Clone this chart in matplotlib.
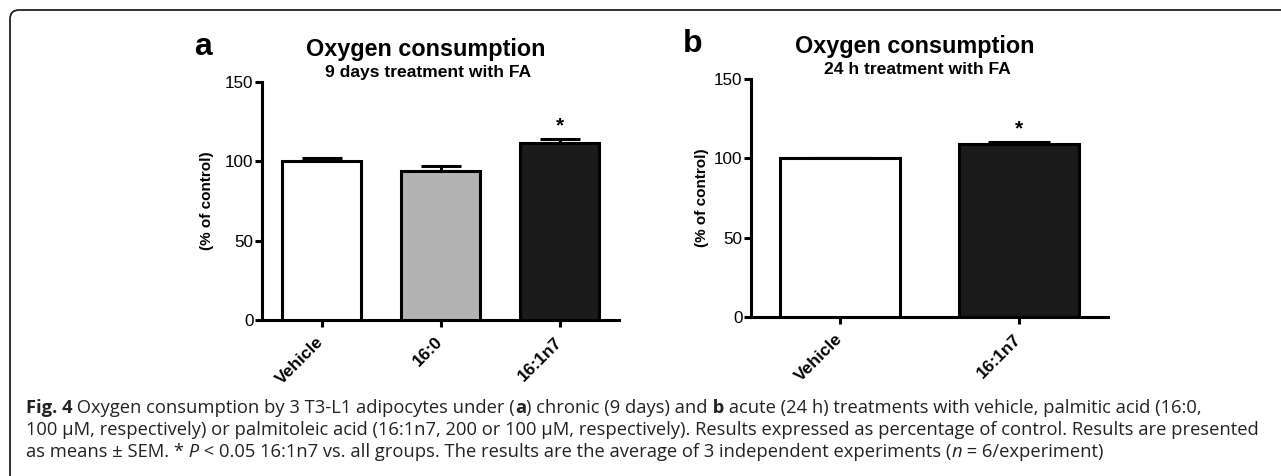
import matplotlib
matplotlib.use("Agg")
import matplotlib.pyplot as plt
from matplotlib.patches import FancyBboxPatch
from matplotlib.transforms import IdentityTransform

# ======================
# DATA
# ======================
labels_a = ["Vehicle", "16:0", "16:1n7"]
means_a = [100, 94, 111.8]
sem_a = [2.3, 3.2, 2.5]
colors_a = ["white", "#b3b3b3", "#1a1a1a"]
signif_a = [False, False, True]

labels_b = ["Vehicle", "16:1n7"]
means_b = [100, 109]
sem_b = [0, 1.1]
colors_b = ["white", "#1a1a1a"]
signif_b = [False, True]

title = "Oxygen consumption"
subtitle_a = "9 days treatment with FA"
subtitle_b = "24 h treatment with FA"
ylabel = "(% of control)"

caption_lines = [
    [("Fig. 4", "bold"),
     (" Oxygen consumption by 3 T3-L1 adipocytes under (", "normal"),
     ("a", "bold"),
     (") chronic (9 days) and", "normal"),
     (" b", "bold"),
     (" acute (24 h) treatments with vehicle, palmitic acid (16:0,", "normal")],
    [("100 µM, respectively) or palmitoleic acid (16:1n7, 200 or 100 µM, respectively). "
      "Results expressed as percentage of control. Results are presented", "normal")],
    [("as means ± SEM. *", "normal"),
     (" P", "italic"),
     (" < 0.05 16:1n7 vs. all groups. The results are the average of 3 independent experiments (", "normal"),
     ("n", "italic"),
     (" = 6/experiment)", "normal")],
]

# ======================
# STYLE
# ======================
W, H = 1281, 476
LW = 2.2
CHART_FONT = "Liberation Sans"
CAPTION_FONT = "Open Sans"

plt.rcParams["font.family"] = CHART_FONT


def draw_panel(ax, labels, means, sems, colors, signif, subtitle, letter,
               capsize, ylabel_x):
    x = list(range(len(labels)))
    ax.bar(x, means, width=0.67, color=colors, edgecolor="black",
           linewidth=LW, zorder=3)
    lower = [0] * len(sems)
    ax.errorbar(x, means, yerr=[lower, sems], fmt="none", ecolor="black",
                elinewidth=LW, capsize=capsize, capthick=LW, zorder=2)
    for xi, m, s, sig in zip(x, means, sems, signif):
        if sig:
            ax.annotate("*", xy=(xi, m + s), xytext=(0, 5.5),
                        textcoords="offset points", ha="center",
                        va="baseline", fontsize=15, fontweight="bold")

    ax.set_xlim(-0.5, len(labels) - 0.5)
    ax.set_ylim(0, 150)
    ax.set_yticks([0, 50, 100, 150])
    ax.set_xticks(x)
    ax.set_xticklabels(labels, rotation=45, ha="right", va="center",
                       rotation_mode="anchor", fontsize=12.5,
                       fontweight="bold")
    ax.tick_params(axis="y", labelsize=12.3, length=5, width=LW, pad=1)
    ax.tick_params(axis="x", length=5, width=LW, pad=9)
    for side in ["top", "right"]:
        ax.spines[side].set_visible(False)
    for side in ["left", "bottom"]:
        ax.spines[side].set_linewidth(LW)

    ax.set_ylabel(ylabel, fontsize=11, fontweight="bold", va="center")
    ax.yaxis.set_label_coords(ylabel_x, 0.5)

    ax.text(0.46, 1.135, title, transform=ax.transAxes, ha="center",
            va="center", fontsize=16.8, fontweight="bold")
    ax.text(0.465, 1.04, subtitle, transform=ax.transAxes, ha="center",
            va="center", fontsize=12.6, fontweight="bold")
    ax.text(-0.164, 1.145, letter, transform=ax.transAxes, ha="center",
            va="center", fontsize=23, fontweight="bold")


fig = plt.figure(figsize=(W / 100, H / 100), dpi=100)

ax_a = fig.add_axes([262 / W, 1 - 320 / H, 357 / W, 238 / H])
ax_b = fig.add_axes([751 / W, 1 - 317 / H, 357 / W, 238 / H])

draw_panel(ax_a, labels_a, means_a, sem_a, colors_a, signif_a, subtitle_a,
           "a", 14.5, -0.154)
draw_panel(ax_b, labels_b, means_b, sem_b, colors_b, signif_b, subtitle_b,
           "b", 22.5, -0.137)

# frame around figure + caption (cropped on right and bottom)
frame = FancyBboxPatch((10, -30), W + 40, H - 10 + 30,
                       boxstyle="round,pad=0,rounding_size=9",
                       transform=IdentityTransform(), facecolor="none",
                       edgecolor="#222222", linewidth=1.3)
fig.patches.append(frame)

# caption, piece by piece
renderer = fig.canvas.get_renderer()
baselines = [413, 435, 457]
for line, yb in zip(caption_lines, baselines):
    xpos = 26 / W
    for text, style in line:
        weight = "bold" if style == "bold" else "normal"
        fstyle = "italic" if style == "italic" else "normal"
        t = fig.text(xpos, 1 - yb / H, text, fontsize=13.2,
                     family=CAPTION_FONT, fontweight=weight, style=fstyle,
                     color="#222222", ha="left", va="baseline")
        bb = t.get_window_extent(renderer=renderer)
        xpos += bb.width / W

plt.savefig("out.png", dpi=100)
plt.close()
